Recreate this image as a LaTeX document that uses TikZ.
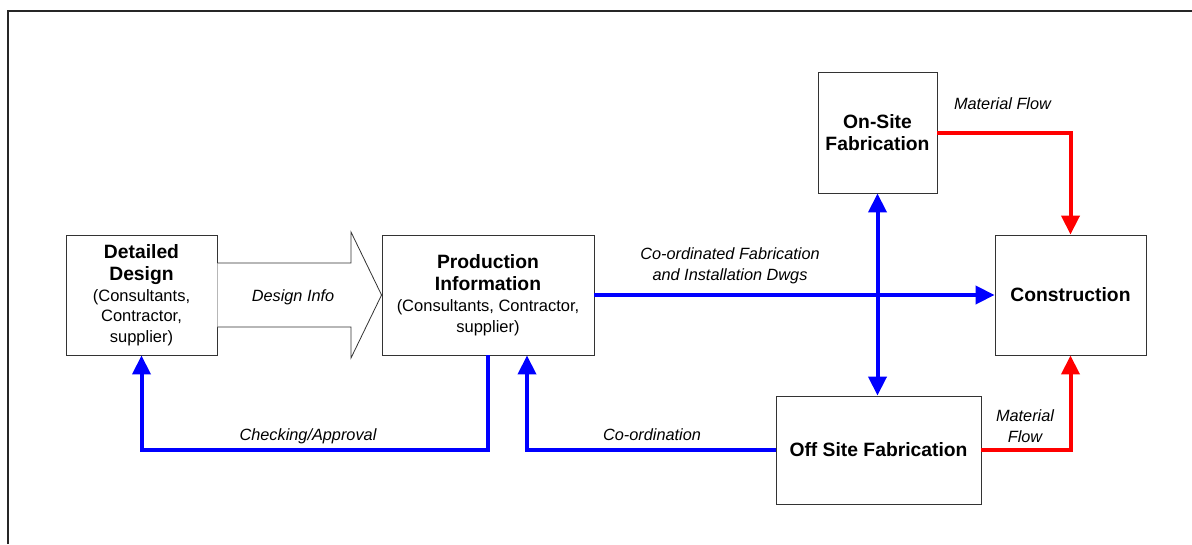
\documentclass[tikz,border=0pt]{standalone}
\usepackage{fontspec}
\setmainfont{Liberation Sans}
\usetikzlibrary{arrows.meta,calc}
\newcommand{\bt}[1]{{\fontsize{19.3}{22}\selectfont\bfseries #1}}
\tikzset{
  box/.style={draw=black!80, line width=0.9pt, fill=white, align=center, inner sep=0pt,
    font=\fontsize{16.5}{20.5}\selectfont},
  lbl/.style={font=\fontsize{16.3}{20.5}\selectfont\itshape, align=center, inner sep=0pt},
  bluearr/.style={draw=blue, line width=4pt, -{Triangle[width=18pt,length=19pt]}},
  bluedbl/.style={draw=blue, line width=4pt, {Triangle[width=18pt,length=19pt]}-{Triangle[width=18pt,length=19pt]}},
  redarr/.style={draw=red, line width=4pt, -{Triangle[width=18pt,length=19pt]}},
  bigarrow/.style={draw=black!80, line width=0.8pt, fill=white},
  frame/.style={draw=black!85, line width=2pt}
}
\begin{document}
\begin{tikzpicture}[x=1pt,y=-1pt]
\useasboundingbox (0,0) rectangle (1192,544);
\draw[frame] (8,544) -- (8,11) -- (1192,11);

\node[box, minimum width=151pt, minimum height=120pt] (dd) at (141.5,295)
  {\bt{Detailed}\\[1.5pt]\bt{Design}\\[0.5pt](Consultants,\\Contractor,\\supplier)};
\node[box, minimum width=212pt, minimum height=120pt] (pi) at (488,295)
  {\bt{Production}\\[1.5pt]\bt{Information}\\[0.5pt](Consultants, Contractor,\\supplier)};
\node[box, minimum width=119pt, minimum height=121pt] (os) at (877.5,132.5)
  {\bt{On-Site}\\[1.5pt]\bt{Fabrication}};
\node[box, minimum width=151pt, minimum height=120pt] (con) at (1070.5,295)
  {\bt{Construction}};
\node[box, minimum width=205pt, minimum height=108pt] (off) at (878.5,450)
  {\bt{Off Site Fabrication}};

% big hollow arrow
\draw[bigarrow] (dd.east |- 0,263) -- (351,263) -- (351,232) -- (pi.west)
  -- (351,358) -- (351,327) -- (dd.east |- 0,327);
\node[lbl, anchor=base] (l1) at (293,301.5) {Design Info};

% blue connectors
\draw[bluearr] (pi.south) -- ++(0,95) -| (dd.south);
\node[lbl, anchor=base] (l2) at (308,440.5) {Checking/Approval};
\draw[bluearr] (off.west) -| ($(pi.south)+(39,0)$);
\node[lbl, anchor=base] (l3) at (652,440.5) {Co-ordination};
\draw[bluearr] (pi.east) -- (con.west);
\node[lbl] (l4) at (730,266) {Co-ordinated Fabrication\\and Installation Dwgs};
\draw[bluedbl] (os.south) -- (os.south |- off.north);

% red connectors
\draw[redarr] (os.east) -| (con.north);
\node[lbl, anchor=base] (l5) at (1002.5,109) {Material Flow};
\draw[redarr] (off.east) -| (con.south);
\node[lbl] (l6) at (1025,426) {Material\\Flow};
\end{tikzpicture}
\end{document}
